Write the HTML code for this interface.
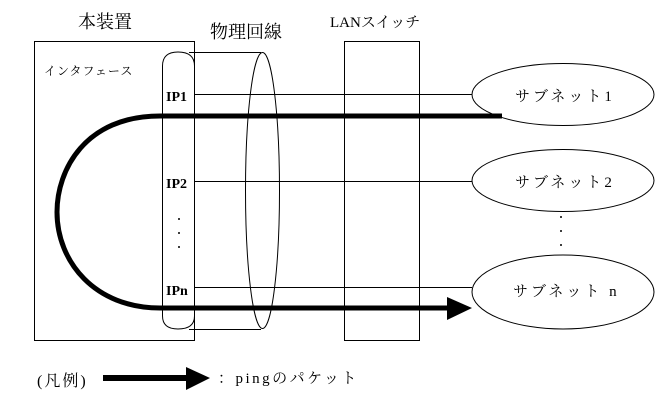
<!DOCTYPE html>
<html><head><meta charset="utf-8"><style>
body{margin:0;background:#fff;}
svg{display:block}
text{font-family:"Liberation Serif","Noto Serif CJK SC","Noto Sans CJK JP",serif;fill:#000}
</style></head><body>
<svg width="657" height="418" viewBox="0 0 657 418" xmlns="http://www.w3.org/2000/svg">
<g fill="none" stroke="#000" stroke-width="1">
<rect x="34.5" y="41.5" width="160" height="299"/>
<rect x="344.5" y="41.5" width="75" height="299"/>
<path d="M162.5 66 Q162.5 52 178 52 Q194.5 52 194.5 66"/>
<path d="M162.5 66 L162.5 316 Q162.5 329 178 329 Q194.5 329 194.5 316"/>
<line x1="189" y1="52.5" x2="261" y2="52.5"/>
<line x1="189" y1="329.5" x2="261" y2="329.5"/>
<ellipse cx="262.5" cy="190.5" rx="17" ry="138"/>
<line x1="194" y1="94.5" x2="472" y2="94.5"/>
<line x1="194" y1="181.5" x2="472" y2="181.5"/>
<line x1="194" y1="287.5" x2="472" y2="287.5"/>
<ellipse cx="563" cy="94.5" rx="91" ry="31"/>
<ellipse cx="563" cy="180.5" rx="91" ry="31"/>
<ellipse cx="563" cy="292" rx="91" ry="37"/>
</g>
<g fill="#000">
<circle cx="179" cy="219" r="1"/><circle cx="179" cy="233" r="1"/><circle cx="179" cy="247" r="1"/>
<circle cx="561" cy="217" r="1"/><circle cx="561" cy="231" r="1"/><circle cx="561" cy="245" r="1"/>
</g>
<path d="M502 116 L160 116 C85 116 57 170 57 212 C57 262 95 308 160 308 L450 308" fill="none" stroke="#000" stroke-width="5"/>
<polygon points="447,297 472,308 447,320" fill="#000"/>
<line x1="103" y1="378" x2="188" y2="378" stroke="#000" stroke-width="6"/>
<polygon points="186,367 210,378 186,390" fill="#000"/>
<text x="78" y="28" font-size="18">本装置</text>
<text x="210" y="38" font-size="18">物理回線</text>
<text x="330" y="27" font-size="15">LANスイッチ</text>
<text x="44" y="75" font-size="12" letter-spacing="1">インタフェース</text>
<text x="166" y="101" font-size="14" font-weight="bold">IP1</text>
<text x="166" y="188" font-size="14" font-weight="bold">IP2</text>
<text x="166" y="295" font-size="14" font-weight="bold">IPn</text>
<text x="515" y="101" font-size="15" letter-spacing="3">サブネット1</text>
<text x="515" y="187" font-size="15" letter-spacing="3">サブネット2</text>
<text x="513" y="296" font-size="15" letter-spacing="3">サブネット n</text>
<text x="37" y="386" font-size="16" letter-spacing="2">(凡例)</text>
<text x="218" y="383" font-size="15" letter-spacing="2.5">：pingのパケット</text>
</svg>
</body></html>
